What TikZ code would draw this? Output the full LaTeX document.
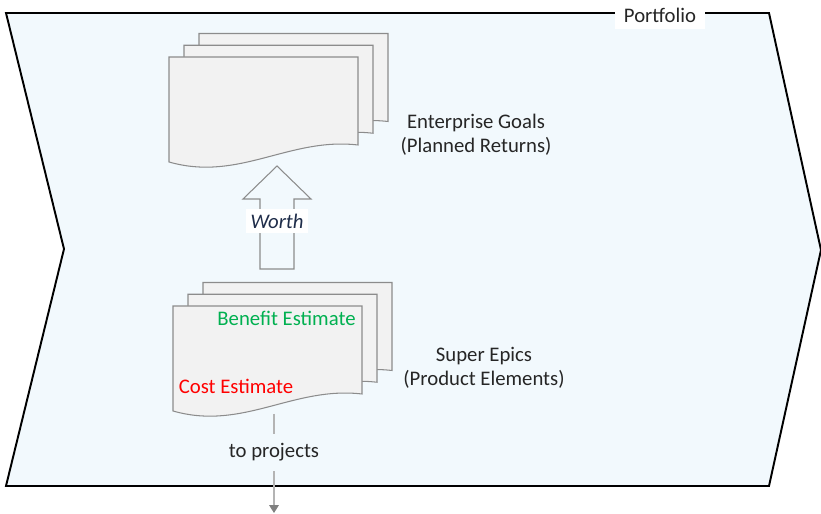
\documentclass[tikz,border=0pt]{standalone}
\usepackage{fontspec}
\setmainfont{Carlito}
\usepackage{tikz}
\usetikzlibrary{calc,arrows.meta}

\definecolor{portfoliobg}{HTML}{F2F9FD}
\definecolor{sheetfill}{HTML}{F2F2F2}
\definecolor{sheetedge}{HTML}{8C8C8C}
\definecolor{worthtext}{HTML}{1F2D4A}
\definecolor{benefitgreen}{HTML}{00B050}
\definecolor{labelgray}{HTML}{262626}
\definecolor{flowgray}{HTML}{B4B4B4}

\newcommand{\diagfont}{\fontsize{11.8}{13.5}\selectfont}

\tikzset{
    sheet/.style={fill=sheetfill, draw=sheetedge, line width=0.6pt},
    plaintext/.style={text=labelgray, font=\diagfont},
    blockarrow/.style={draw=sheetedge, line width=0.6pt},
    flowline/.style={draw=flowgray, line width=0.6pt, -{Triangle[width=5.5pt, length=4.5pt, color=gray]}},
    % three stacked sheets with a wavy bottom edge
    pics/sheetstack/.style={code={
        \foreach \k in {2,1,0} {
            \draw[sheet, shift={({0.30*\k},{0.235*\k})}] (0,0) -- (3.78,0) -- (3.78,-1.76)
                .. controls (2.40,-1.60) and (1.40,-2.50) .. (0,-2.10) -- cycle;
        }
    }}
}

\begin{document}
\begin{tikzpicture}
    \useasboundingbox (0,0) rectangle (16.42,10.28);

    % portfolio chevron
    \draw[fill=portfoliobg, line width=1.1pt] (0.12,10.02) -- (15.38,10.02) -- (16.42,5.28)
        -- (15.38,0.56) -- (0.12,0.56) -- (1.28,5.30) -- cycle;
    \node[plaintext, fill=white, inner xsep=5pt, inner ysep=4pt] (portfolio) at (13.20,9.98) {Portfolio};

    % enterprise goals
    \pic at (3.38,9.14) {sheetstack};
    \node[plaintext, align=center] (goals) at (9.52,7.59) {Enterprise Goals\\(Planned Returns)};

    % worth arrow
    \coordinate (worthtip) at (5.54,6.96);
    \draw[blockarrow] (worthtip) -- ($(worthtip) + (0.68,-0.66)$) -- ($(worthtip) + (0.34,-0.66)$)
        -- ($(worthtip) + (0.34,-2.06)$) -- ($(worthtip) + (-0.34,-2.06)$)
        -- ($(worthtip) + (-0.34,-0.66)$) -- ($(worthtip) + (-0.68,-0.66)$) -- cycle;
    \node[fill=white, text=worthtext, font=\diagfont\itshape, inner sep=2.5pt] (worth) at ($(worthtip) + (0,-1.10)$) {Worth};

    % super epics
    \pic at (3.46,4.16) {sheetstack};
    \node[text=benefitgreen, font=\diagfont] (benefit) at (5.73,3.92) {Benefit Estimate};
    \node[text=red, font=\diagfont] (cost) at (4.72,2.56) {Cost Estimate};
    \node[plaintext, align=center] (epics) at (9.68,2.93) {Super Epics\\(Product Elements)};

    % down to projects
    \coordinate (epicsout) at (5.48,2.00);
    \coordinate (projects) at (5.48,0.02);
    \draw[flowline] (epicsout) -- node[plaintext, pos=0.39, fill=portfoliobg, inner ysep=5.5pt] (toprojects) {to projects} (projects);

\end{tikzpicture}
\end{document}
